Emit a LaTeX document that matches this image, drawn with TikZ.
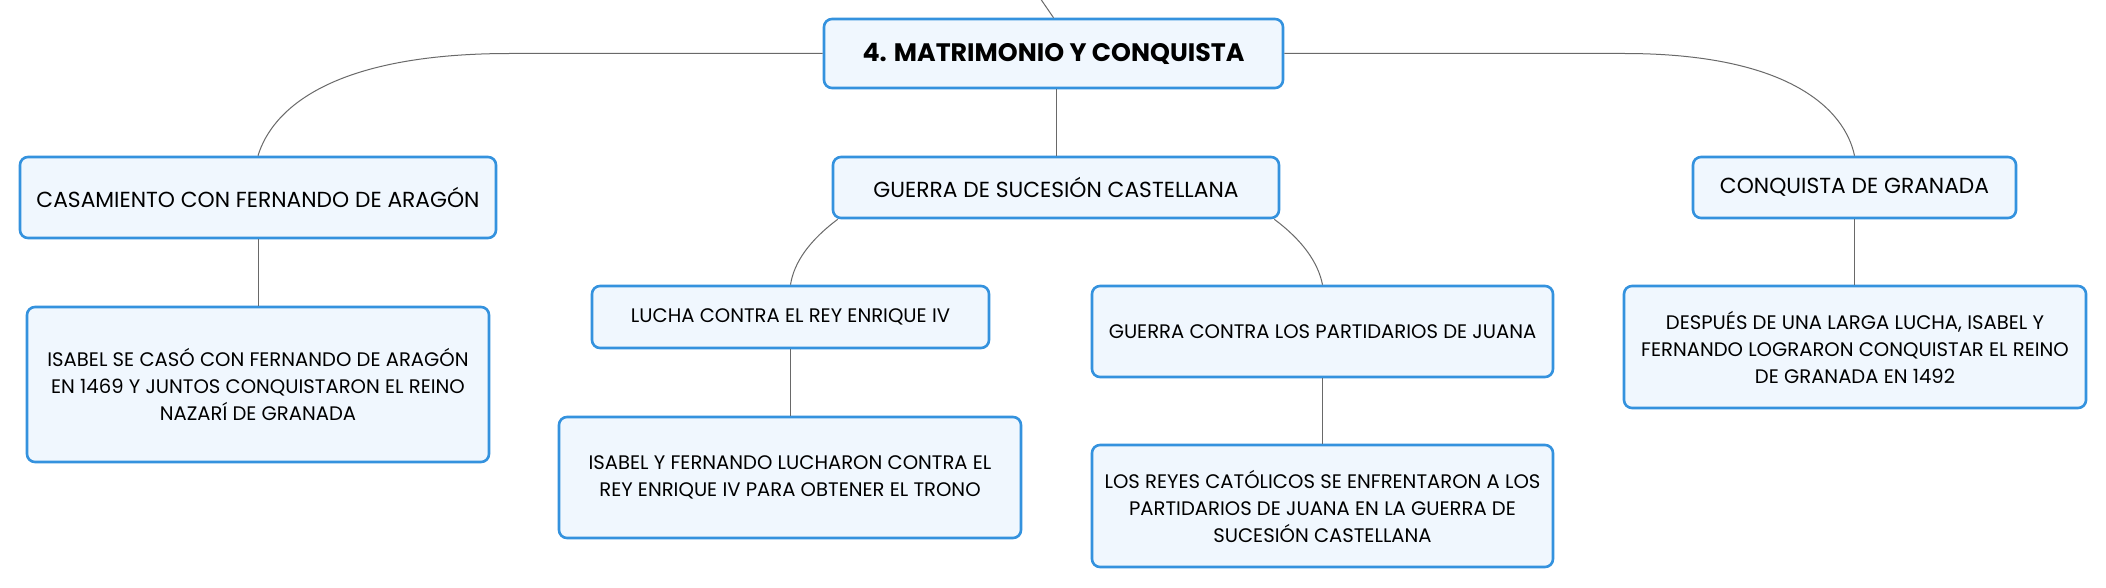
\documentclass[tikz,border=0pt]{standalone}
\usepackage{fontspec}
\setmainfont{Poppins}
\usetikzlibrary{calc}
\definecolor{boxline}{RGB}{52,146,222}
\definecolor{boxfill}{RGB}{240,247,254}
\definecolor{conn}{RGB}{105,105,105}
\tikzset{
  mbox/.style={draw=boxline, fill=boxfill, line width=2.6pt, rounded corners=8pt, align=center, inner sep=0pt, text=black},
  lvlone/.style={mbox, font=\fontsize{21.8}{27}\selectfont},
  lvltwo/.style={mbox, font=\fontsize{19.6}{27}\selectfont},
  link/.style={draw=conn, line width=1pt}
}
\begin{document}
\begin{tikzpicture}[x=1pt,y=-1pt]
\useasboundingbox (0,0) rectangle (2106,588);
\fill[white] (0,0) rectangle (2106,588);
% nodes
\node[mbox, font=\bfseries\fontsize{25.3}{27}\selectfont, minimum width=459pt, minimum height=69pt] (main) at (1053.5,53.5) {4. MATRIMONIO Y CONQUISTA};
\node[lvlone, minimum width=476pt, minimum height=81pt] (cas) at (258,197.5) {CASAMIENTO CON FERNANDO DE ARAGÓN};
\node[lvlone, minimum width=446pt, minimum height=61pt] (gs) at (1056,187.5) {GUERRA DE SUCESIÓN CASTELLANA};
\node[lvlone, minimum width=323pt, minimum height=61pt] (cg) at (1854.5,187.5) {CONQUISTA DE GRANADA};
\node[lvltwo, minimum width=462pt, minimum height=155pt] (isa) at (258,384.5) {ISABEL SE CASÓ CON FERNANDO DE ARAGÓN\\EN 1469 Y JUNTOS CONQUISTARON EL REINO\\NAZARÍ DE GRANADA};
\node[lvltwo, minimum width=397pt, minimum height=62pt] (lucha) at (790.5,317) {LUCHA CONTRA EL REY ENRIQUE IV};
\node[lvltwo, minimum width=462pt, minimum height=121pt] (ifl) at (790,477.5) {ISABEL Y FERNANDO LUCHARON CONTRA EL\\REY ENRIQUE IV PARA OBTENER EL TRONO};
\node[lvltwo, minimum width=461pt, minimum height=91pt] (gc) at (1322.5,331.5) {GUERRA CONTRA LOS PARTIDARIOS DE JUANA};
\node[lvltwo, minimum width=461pt, minimum height=122pt] (reyes) at (1322.5,506) {LOS REYES CATÓLICOS SE ENFRENTARON A LOS\\PARTIDARIOS DE JUANA EN LA GUERRA DE\\SUCESIÓN CASTELLANA};
\node[lvltwo, minimum width=462pt, minimum height=122pt] (desp) at (1855,347) {DESPUÉS DE UNA LARGA LUCHA, ISABEL Y\\FERNANDO LOGRARON CONQUISTAR EL REINO\\DE GRANADA EN 1492};
% connectors
\coordinate (top) at (1040,-2);
\draw[link] (top) .. controls (1046,8) .. (main.north);
\draw[link] (main.west) -- (510,53.5) .. controls (330,53.5) and (272,110) .. (cas.north);
\draw[link] (main.east) -- (1624,53.5) .. controls (1790,53.5) and (1845,110) .. (cg.north);
\draw[link] (gs.north |- main.south) -- (gs.north);
\draw[link] ($(gs.south west)+(6,0)$) .. controls (810,240) and (794,262) .. (lucha.north);
\draw[link] ($(gs.south east)+(-6,0)$) .. controls (1302,240) and (1318,262) .. (gc.north);
\draw[link] (cas.south) -- (isa.north);
\draw[link] (lucha.south) -- (lucha.south |- ifl.north);
\draw[link] (gc.south) -- (reyes.north);
\draw[link] (cg.south) -- (cg.south |- desp.north);
\end{tikzpicture}
\end{document}
